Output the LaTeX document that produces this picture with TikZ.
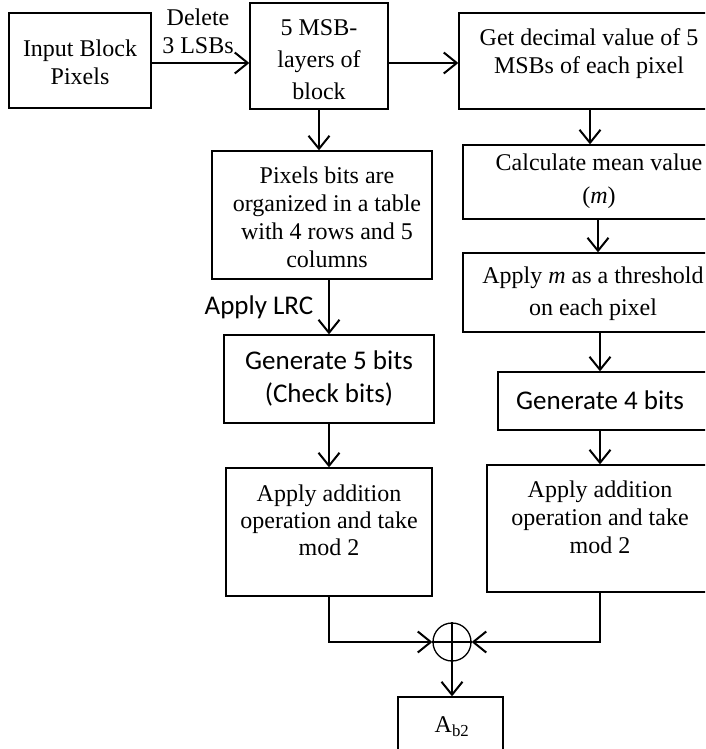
\documentclass[tikz,border=0pt]{standalone}
\usepackage{fontspec}
\setmainfont{Liberation Serif}
\newfontfamily\sansf{Carlito}
\usetikzlibrary{arrows.meta}
\begin{document}
\begin{tikzpicture}[x=1pt,y=-1pt,
  box/.style={draw, line width=1.3pt, rectangle, inner sep=0pt},
  txt/.style={align=center, inner sep=0pt, font=\fontsize{24}{28}\selectfont},
  stxt/.style={align=center, inner sep=0pt, font=\sansf\fontsize{27}{33}\selectfont},
  arr/.style={line width=2pt, -{Straight Barb[length=13pt,width=21pt,line width=2pt]}},
  plain/.style={line width=2pt}]
\useasboundingbox (0,0) rectangle (705,749);
\clip (0,0) rectangle (705,749);

% boxes
\node[box, minimum width=142, minimum height=95] (inp) at (80,60.5) {};
\node[box, minimum width=138, minimum height=106] (msb) at (319,56) {};
\node[box, minimum width=262, minimum height=96] (dec) at (590,61) {};
\node[box, minimum width=220, minimum height=128] (pix) at (322,215) {};
\node[box, minimum width=210, minimum height=88] (g5) at (329,379) {};
\node[box, minimum width=206, minimum height=128] (addL) at (329,532) {};
\node[box, minimum width=270, minimum height=74] (calc) at (598,182) {};
\node[box, minimum width=270, minimum height=79] (appm) at (598,292.5) {};
\node[box, minimum width=214, minimum height=58] (g4) at (605,401) {};
\node[box, minimum width=226, minimum height=127] (addR) at (600,528.5) {};
\node[box, minimum width=105, minimum height=62] (ab) at (450.5,728) {};
\node[draw, circle, line width=1.3pt, minimum size=38, inner sep=0pt] (xor) at (452,642) {};
\draw[line width=1.3pt] (xor.north) -- (xor.south) (xor.west) -- (xor.east);

% texts
\node[txt] (inpT) at (80,62) {Input Block\\Pixels};
\node[txt] (delT) at (198,31) {Delete\\3 LSBs};
\node[txt, font=\fontsize{24}{32}\selectfont] (msbT) at (319,60) {5 MSB-\\layers of\\block};
\node[txt] (decT) at (589,54) {Get decimal value of 5\\MSBs of each pixel};
\node[txt] (pixT) at (327,217) {Pixels bits are\\organized in a table\\with 4 rows and 5\\columns};
\node[stxt] (lrcT) at (259,307) {Apply LRC};
\node[stxt] (g5T) at (329,378.5) {Generate 5 bits\\(Check bits)};
\node[txt, font=\fontsize{24}{27}\selectfont] (addLT) at (329,520) {Apply addition\\operation and take\\mod 2};
\node[txt, font=\fontsize{24}{33}\selectfont] (calcT) at (599,181.5) {Calculate mean value\\(\textit{m})};
\node[txt, font=\fontsize{24}{32}\selectfont] (appmT) at (593,294) {Apply \textit{m} as a threshold\\on each pixel};
\node[stxt] (g4T) at (600,400) {Generate 4 bits};
\node[txt, font=\fontsize{24}{28}\selectfont] (addRT) at (600,517) {Apply addition\\operation and take\\mod 2};
\node[txt] (abT) at (452,727) {A\textsubscript{b2}};

% connectors
\draw[arr] ([yshift=-2.5pt]inp.east) -- ([yshift=-2.5pt]inp.east -| msb.west);
\draw[arr] ([yshift=-7pt]msb.east) -- ([yshift=-7pt]msb.east -| dec.west);
\draw[arr] (msb.south) -- (msb.south |- pix.north);
\draw[arr] (dec.south) -- (dec.south |- calc.north);
\draw[arr] (calc.south) -- (appm.north);
\draw[arr] ([xshift=2pt]appm.south) -- ([xshift=2pt]appm.south |- g4.north);
\draw[arr] (addR.north |- g4.south) -- (addR.north);
\draw[arr] (g5.north |- pix.south) -- (g5.north);
\draw[arr] (g5.south) -- (addL.north);
\draw[arr] (addL.south) |- (xor.west);
\draw[arr] (addR.south) |- (xor.east);
\draw[arr] (xor.south) -- (xor.south |- ab.north);
\end{tikzpicture}
\end{document}
